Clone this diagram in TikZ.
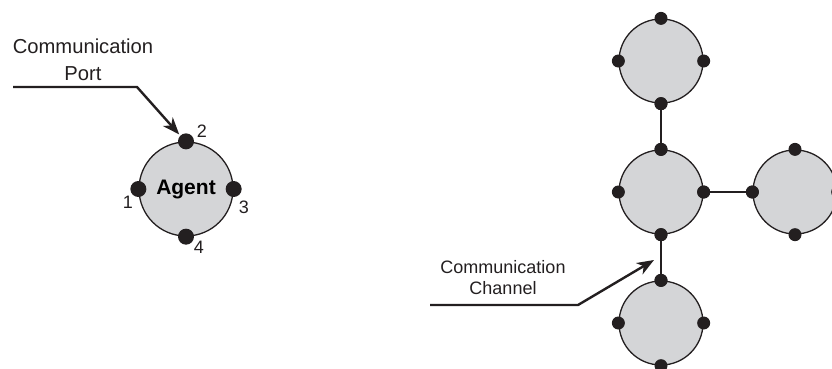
\documentclass[tikz,border=0pt]{standalone}
\usepackage{fontspec}
\setmainfont{Liberation Sans}
\usetikzlibrary{arrows.meta,calc}
\definecolor{agentgray}{RGB}{212,213,215}
\definecolor{ink}{RGB}{35,31,32}
\begin{document}
\begin{tikzpicture}[x=1pt,y=-1pt,
  agent/.style={circle,draw=ink,line width=1.3pt,fill=agentgray,inner sep=0pt,minimum size=#1},
  port/.style={circle,fill=ink,inner sep=0pt,minimum size=#1},
  link/.style={draw=ink,line width=2pt},
  pointer/.style={draw=ink,line width=2.4pt,-{Stealth[length=17pt,width=13pt,inset=5pt]}},
  num/.style={font=\fontsize{18}{20}\selectfont,text=ink,inner sep=0pt}]
\useasboundingbox (0,0) rectangle (832,368);
\clip (0,0) rectangle (832,368);

% ---- single agent (left)
\node[agent=94pt] (A) at (186,189) {\fontsize{21}{24}\selectfont\bfseries Agent};
\node[port=16pt] (A-w) at (A.west) {};
\node[port=16pt] (A-n) at (A.north) {};
\node[port=16pt] (A-e) at (A.east) {};
\node[port=16pt] (A-s) at (A.south) {};
\node[num] (l1) at (128,202) {1};
\node[num] (l2) at (202,131) {2};
\node[num] (l3) at (244,207) {3};
\node[num] (l4) at (199,247) {4};

\node[align=center,anchor=north,inner sep=0pt,text=ink,font=\fontsize{20.2}{27}\selectfont] (porttext) at (83,38.5) {Communication\\Port};
\coordinate (ps) at (13,87);
\coordinate (pb) at (137,87);
\draw[pointer,shorten >=1.5pt] (ps) -- (pb) -- (A-n.north west);

% ---- network (right)
\node[agent=84pt] (T) at (661,61) {};
\node[agent=84pt] (M) at (661,192) {};
\node[agent=84pt] (R) at (795,192) {};
\node[agent=84pt] (B) at (661,323) {};
\foreach \c in {T,M,R,B}{
  \node[port=13pt] (\c-n) at (\c.north) {};
  \node[port=13pt] (\c-e) at (\c.east) {};
  \node[port=13pt] (\c-s) at (\c.south) {};
  \node[port=13pt] (\c-w) at (\c.west) {};
}
\draw[link] (T-s.center) -- (M-n.center);
\draw[link] (M-e.center) -- (R-w.center);
\draw[link] (M-s.center) -- (B-n.center);
\foreach \c in {T-s,M-n,M-e,R-w,M-s,B-n}{\fill[ink] (\c) circle (6.5pt);}

\node[align=center,anchor=north,inner sep=0pt,text=ink,font=\fontsize{18}{21}\selectfont] (chantext) at (503,260.5) {Communication\\Channel};
\coordinate (cs) at (430,305);
\coordinate (cb) at (578,305);
\coordinate (ct) at (654,260);
\draw[pointer] (cs) -- (cb) -- (ct);
\end{tikzpicture}
\end{document}
